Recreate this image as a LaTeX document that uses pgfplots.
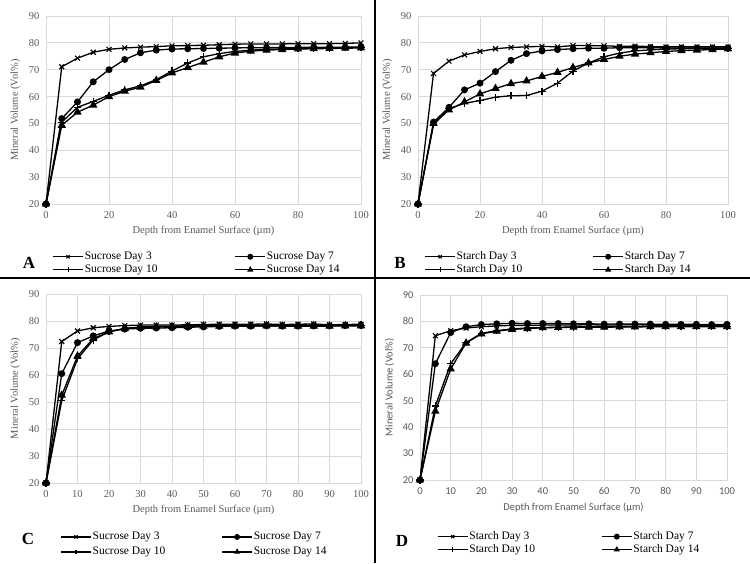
\documentclass[border=0pt]{standalone}
\usepackage{pgfplots}
\usepackage{pgfplotstable}
\pgfplotsset{compat=1.18}
\usepackage{fontspec}
\setmainfont{Liberation Serif}
\newfontfamily\calibri{Carlito}
\definecolor{tickgray}{HTML}{595959}
\definecolor{gridgray}{HTML}{D9D9D9}

\pgfplotstableread{
x d3 d7 d10 d14
0 20 20 20 20
5 71.1 51.8 50.5 49.3
10 74.3 58.0 56.0 54.2
15 76.5 65.5 58.2 56.8
20 77.6 70.0 60.5 60.0
25 78.1 73.8 62.5 62.0
30 78.4 76.3 64.0 63.5
35 78.6 77.3 66.3 66.0
40 78.9 77.7 69.5 68.8
45 79.0 77.8 72.5 70.8
50 79.1 77.9 74.8 72.8
55 79.3 78.0 76.0 74.8
60 79.5 78.1 76.8 76.2
65 79.6 78.2 77.3 76.9
70 79.6 78.2 77.6 77.3
75 79.6 78.3 77.8 77.5
80 79.7 78.3 77.9 77.7
85 79.7 78.4 78.0 77.8
90 79.7 78.4 78.1 77.9
95 79.8 78.4 78.2 78.0
100 80.0 78.5 78.3 78.1
}\tabA

\pgfplotstableread{
x d3 d7 d10 d14
0 20 20 20 20
5 68.6 50.5 49.5 50.0
10 73.2 56.0 55.5 55.0
15 75.5 62.5 57.5 58.0
20 76.8 65.0 58.5 61.0
25 77.8 69.3 59.8 63.0
30 78.3 73.5 60.3 64.8
35 78.5 76.0 60.4 65.8
40 78.7 77.0 62.0 67.5
45 78.5 77.5 65.0 69.0
50 79.0 77.8 69.5 70.8
55 79.0 78.0 72.5 72.5
60 78.9 78.0 74.8 73.8
65 78.7 78.2 76.2 75.0
70 78.8 78.2 77.0 75.8
75 78.6 78.2 77.4 76.3
80 78.5 78.1 77.7 76.8
85 78.5 78.1 77.8 77.1
90 78.5 78.1 77.9 77.3
95 78.5 78.1 78.0 77.5
100 78.5 78.1 78.0 77.7
}\tabB

\pgfplotstableread{
x d3 d7 d10 d14
0 20 20 20 20
5 72.4 60.5 50.5 52.5
10 76.3 72.0 66.0 67.0
15 77.5 74.5 73.0 73.5
20 78.0 76.3 76.0 76.0
25 78.3 77.0 77.3 77.2
30 78.5 77.3 77.8 77.6
35 78.5 77.4 78.0 77.8
40 78.5 77.5 78.1 77.9
45 78.6 77.7 78.2 78.0
50 78.7 77.8 78.3 78.1
55 78.8 78.0 78.4 78.1
60 78.8 78.1 78.4 78.2
65 78.8 78.1 78.4 78.2
70 78.9 78.2 78.5 78.2
75 78.7 78.1 78.4 78.1
80 78.8 78.1 78.4 78.1
85 78.9 78.2 78.5 78.1
90 78.6 78.2 78.4 78.1
95 78.7 78.3 78.5 78.2
100 78.8 78.3 78.5 78.2
}\tabC

\pgfplotstableread{
x d3 d7 d10 d14
0 20 20 20 20
5 74.6 64.0 48.0 46.0
10 76.5 75.8 64.0 62.0
15 77.5 78.0 72.0 71.8
20 78.0 78.8 75.5 75.3
25 78.3 79.1 76.5 76.3
30 78.5 79.3 77.2 77.0
35 78.5 79.2 77.5 77.3
40 78.6 79.2 77.7 77.6
45 78.7 79.2 77.8 77.7
50 78.6 79.1 77.9 77.8
55 78.8 79.1 78.0 77.8
60 78.6 79.0 78.0 77.8
65 78.7 79.0 78.0 77.9
70 78.8 79.0 78.1 77.9
75 78.6 79.0 78.1 78.0
80 78.5 78.9 78.1 78.0
85 78.6 78.9 78.2 78.0
90 78.5 78.9 78.2 78.0
95 78.4 78.8 78.2 78.0
100 78.5 78.9 78.2 78.0
}\tabD

\pgfplotsset{
  panel/.style={
    scale only axis,
    xmin=0, xmax=100, ymin=20, ymax=90,
    ytick={20,30,...,90},
    grid=major,
    grid style={gridgray, line width=0.8pt},
    axis line style={gridgray, line width=0.8pt},
    major tick length=0pt,
    /pgf/number format/assume math mode=true,
    tick label style={font=\fontsize{10.5}{10.5}\selectfont, text=tickgray},
    xticklabel style={yshift=-4pt},
    yticklabel style={xshift=-3pt},
    label style={font=\fontsize{10.5}{10.5}\selectfont, text=tickgray},
    xlabel={Depth from Enamel Surface (µm)},
    ylabel={Mineral Volume (Vol\%)},
    xlabel style={yshift=-1pt},
    ylabel style={yshift=2pt},
    legend columns=2,
    legend cell align=left,
    legend image code/.code={\draw[mark repeat=2,mark phase=2,mark size=2.3pt] plot coordinates {(0pt,0pt)(15pt,0pt)(30pt,0pt)};},
    legend style={draw=none, fill=none, anchor=north west,
      font=\fontsize{11.5}{11.5}\selectfont, inner sep=0pt,
      row sep=0pt, nodes={inner xsep=1pt, inner ysep=0.75pt, text height=8.5pt, text depth=3pt}},
  },
  s3/.style={black, line width=1.3pt, mark=x, mark size=3.4pt, mark options={solid, line width=1.1pt}},
  s7/.style={black, line width=1.3pt, mark=*, mark size=2.8pt, mark options={solid}},
  s10/.style={black, line width=1.3pt, mark=+, mark size=3.6pt, mark options={solid, line width=1.1pt}},
  s14/.style={black, line width=1.3pt, mark=triangle*, mark size=3.6pt, mark options={solid}},
}

\begin{document}
\begin{tikzpicture}[x=1pt,y=1pt]
\path[use as bounding box] (0,0) rectangle (750,563);
\draw[black, line width=1.5pt] (375,0) -- (375,563);
\draw[black, line width=1.5pt] (0,285) -- (750,285);

% Panel A
\begin{axis}[panel, at={(46pt,359pt)}, anchor=south west, width=315pt, height=188pt,
  xtick={0,20,...,100},
  legend style={at={(0.02,-0.245)}, /tikz/every even column/.append style={column sep=76pt}}]
\addplot[s3] table[x=x,y=d3] {\tabA};
\addplot[s7] table[x=x,y=d7] {\tabA};
\addplot[s10] table[x=x,y=d10] {\tabA};
\addplot[s14] table[x=x,y=d14] {\tabA};
\legend{Sucrose Day 3, Sucrose Day 7, Sucrose Day 10, Sucrose Day 14}
\end{axis}
\node[font=\fontsize{17}{17}\selectfont\bfseries] at (29,300) {A};

% Panel B
\begin{axis}[panel, at={(418pt,359pt)}, anchor=south west, width=310pt, height=188pt,
  xtick={0,20,...,100},
  legend style={at={(0.02,-0.245)}, /tikz/every even column/.append style={column sep=69pt}}]
\addplot[s3] table[x=x,y=d3] {\tabB};
\addplot[s7] table[x=x,y=d7] {\tabB};
\addplot[s10] table[x=x,y=d10] {\tabB};
\addplot[s14] table[x=x,y=d14] {\tabB};
\legend{Starch Day 3, Starch Day 7, Starch Day 10, Starch Day 14}
\end{axis}
\node[font=\fontsize{17}{17}\selectfont\bfseries] at (400,300) {B};

% Panel C
\begin{axis}[panel, at={(46pt,80pt)}, anchor=south west, width=315pt, height=189pt,
  xtick={0,10,...,100},
  legend style={at={(0.045,-0.25)}, row sep=2pt, /tikz/every even column/.append style={column sep=55pt}}]
\addplot[s3] table[x=x,y=d3] {\tabC};
\addplot[s7] table[x=x,y=d7] {\tabC};
\addplot[s10] table[x=x,y=d10] {\tabC};
\addplot[s14] table[x=x,y=d14] {\tabC};
\legend{Sucrose Day 3, Sucrose Day 7, Sucrose Day 10, Sucrose Day 14}
\end{axis}
\node[font=\fontsize{17}{17}\selectfont\bfseries] at (28,24) {C};

% Panel D
\begin{axis}[panel, at={(420pt,83pt)}, anchor=south west, width=307pt, height=185pt,
  xtick={0,10,...,100},
  tick label style={font=\calibri\fontsize{10.5}{10.5}\selectfont, text=tickgray},
  label style={font=\calibri\fontsize{10.5}{10.5}\selectfont, text=tickgray},
  legend style={at={(0.055,-0.27)}, /tikz/every even column/.append style={column sep=65pt}}]
\addplot[s3] table[x=x,y=d3] {\tabD};
\addplot[s7] table[x=x,y=d7] {\tabD};
\addplot[s10] table[x=x,y=d10] {\tabD};
\addplot[s14] table[x=x,y=d14] {\tabD};
\legend{Starch Day 3, Starch Day 7, Starch Day 10, Starch Day 14}
\end{axis}
\node[font=\fontsize{17}{17}\selectfont\bfseries] at (402,22) {D};
\end{tikzpicture}
\end{document}
